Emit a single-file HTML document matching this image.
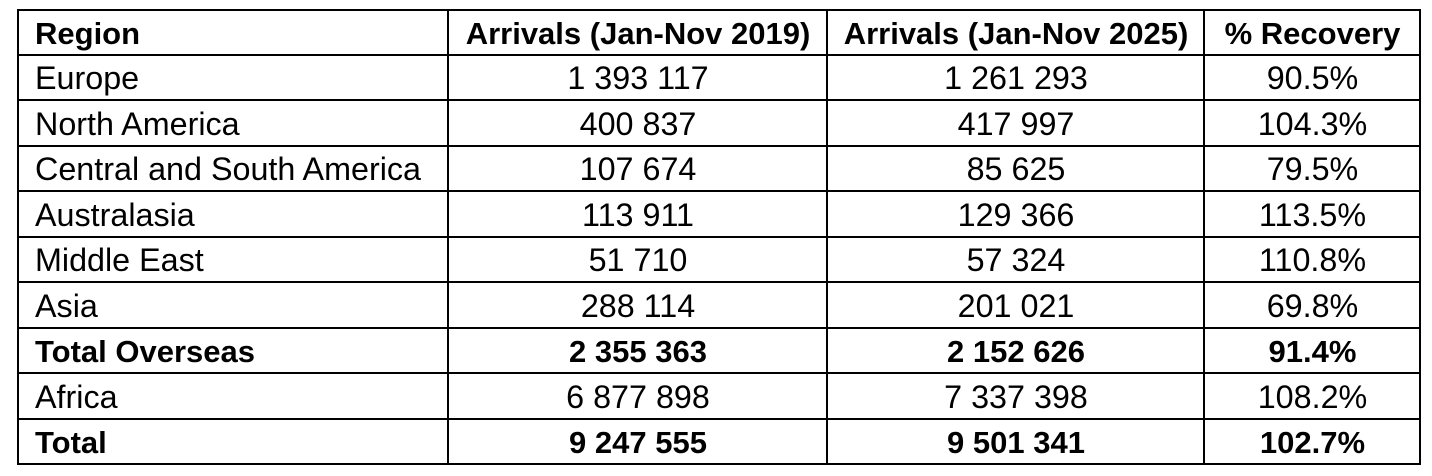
<!DOCTYPE html>
<html>
<head>
<meta charset="utf-8">
<style>
html,body{margin:0;padding:0;background:#fff;}
body{width:1432px;height:476px;position:relative;overflow:hidden;font-family:"Liberation Sans",Arial,sans-serif;color:#000;}
.h{position:absolute;left:17px;width:1404px;height:2px;background:#000;}
.v{position:absolute;top:9px;height:456px;width:2px;background:#000;}
.c{position:absolute;height:45px;line-height:45px;font-size:32.3px;white-space:nowrap;}
.l{left:35px;}
.m1{left:449px;width:378px;text-align:center;}
.m2{left:828px;width:376px;text-align:center;}
.m3{left:1205px;width:215px;text-align:center;}
.b{font-weight:bold;font-size:31px;}
</style>
</head>
<body>
<div class="h" style="top:9px"></div>
<div class="h" style="top:54px"></div>
<div class="h" style="top:99px"></div>
<div class="h" style="top:145px"></div>
<div class="h" style="top:190px"></div>
<div class="h" style="top:236px"></div>
<div class="h" style="top:281px"></div>
<div class="h" style="top:327px"></div>
<div class="h" style="top:372px"></div>
<div class="h" style="top:418px"></div>
<div class="h" style="top:463px"></div>
<div class="v" style="left:17px"></div>
<div class="v" style="left:447px"></div>
<div class="v" style="left:826px"></div>
<div class="v" style="left:1203px"></div>
<div class="v" style="left:1419px"></div>

<div class="c l b" style="top:11px">Region</div>
<div class="c m1 b" style="top:11px">Arrivals (Jan-Nov 2019)</div>
<div class="c m2 b" style="top:11px">Arrivals (Jan-Nov 2025)</div>
<div class="c m3 b" style="top:11px">% Recovery</div>

<div class="c l" style="top:56px">Europe</div>
<div class="c m1" style="top:56px">1 393 117</div>
<div class="c m2" style="top:56px">1 261 293</div>
<div class="c m3" style="top:56px">90.5%</div>

<div class="c l" style="top:102px">North America</div>
<div class="c m1" style="top:102px">400 837</div>
<div class="c m2" style="top:102px">417 997</div>
<div class="c m3" style="top:102px">104.3%</div>

<div class="c l" style="top:147px">Central and South America</div>
<div class="c m1" style="top:147px">107 674</div>
<div class="c m2" style="top:147px">85 625</div>
<div class="c m3" style="top:147px">79.5%</div>

<div class="c l" style="top:193px">Australasia</div>
<div class="c m1" style="top:193px">113 911</div>
<div class="c m2" style="top:193px">129 366</div>
<div class="c m3" style="top:193px">113.5%</div>

<div class="c l" style="top:238px">Middle East</div>
<div class="c m1" style="top:238px">51 710</div>
<div class="c m2" style="top:238px">57 324</div>
<div class="c m3" style="top:238px">110.8%</div>

<div class="c l" style="top:284px">Asia</div>
<div class="c m1" style="top:284px">288 114</div>
<div class="c m2" style="top:284px">201 021</div>
<div class="c m3" style="top:284px">69.8%</div>

<div class="c l b" style="top:329px">Total Overseas</div>
<div class="c m1 b" style="top:329px">2 355 363</div>
<div class="c m2 b" style="top:329px">2 152 626</div>
<div class="c m3 b" style="top:329px">91.4%</div>

<div class="c l" style="top:375px">Africa</div>
<div class="c m1" style="top:375px">6 877 898</div>
<div class="c m2" style="top:375px">7 337 398</div>
<div class="c m3" style="top:375px">108.2%</div>

<div class="c l b" style="top:420px">Total</div>
<div class="c m1 b" style="top:420px">9 247 555</div>
<div class="c m2 b" style="top:420px">9 501 341</div>
<div class="c m3 b" style="top:420px">102.7%</div>
</body>
</html>
